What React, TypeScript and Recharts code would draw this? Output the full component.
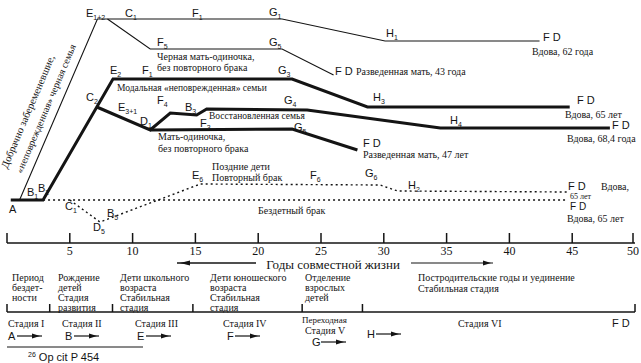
import React from "react";
import { LineChart, Line, XAxis, YAxis, ReferenceLine, Customized } from "recharts";

type P = { x: number; y: number };

// x — годы совместной жизни, y — условный уровень над осью
const yearTicks = [0, 5, 10, 15, 20, 25, 30, 35, 40, 45, 50];

const blackFamily: P[] = [
  { x: 1.0, y: 43 }, { x: 7.2, y: 224 }, { x: 21.9, y: 224 }, { x: 30.1, y: 202 }, { x: 42.4, y: 202 },
];
const blackSingleMother: P[] = [
  { x: 8.0, y: 224 }, { x: 11.4, y: 194 }, { x: 21.9, y: 194 }, { x: 26.0, y: 168 },
];
const modalFamily: P[] = [
  { x: 0.3, y: 43 }, { x: 2.87, y: 43 }, { x: 8.44, y: 164 }, { x: 22.7, y: 164 }, { x: 28.7, y: 136 }, { x: 44.8, y: 136 },
];
const restoredFamily: P[] = [
  { x: 7.15, y: 136 }, { x: 11.4, y: 113 }, { x: 13.0, y: 130 }, { x: 15.1, y: 128 }, { x: 15.9, y: 134 },
  { x: 23.9, y: 133 }, { x: 34.5, y: 115 }, { x: 48.0, y: 115 },
];
const singleMother: P[] = [
  { x: 11.4, y: 113 }, { x: 22.7, y: 114 }, { x: 27.9, y: 93 },
];
const childless: P[] = [
  { x: 2.87, y: 43 }, { x: 44.6, y: 43 },
];
const remarriage: P[] = [
  { x: 5.0, y: 43 }, { x: 7.4, y: 21 }, { x: 15.4, y: 59 }, { x: 29.7, y: 58 }, { x: 31.1, y: 52 }, { x: 44.6, y: 51 },
];
const stageBounds = [0, 3.4, 8.4, 14.8, 23.5, 28.3, 50];

const INK = "#141414";
const SERIF = "'Liberation Serif', 'DejaVu Serif', serif";
const SANS = "'Liberation Sans', Arial, sans-serif";

function Pt({ x, y, l, s, size = 11 }: { x: number; y: number; l: string; s?: string; size?: number }) {
  return (
    <text x={x} y={y} fontFamily={SANS} fontSize={size} fill={INK}>
      {l}
      {s ? <tspan fontSize={7} dy={3}>{s}</tspan> : null}
    </text>
  );
}

function T({ x, y, children, size = 10, anchor = "start", font = SERIF, weight = "normal" }: any) {
  return (
    <text x={x} y={y} fontFamily={font} fontSize={size} fill={INK} textAnchor={anchor} fontWeight={weight}>
      {children}
    </text>
  );
}

function Arrow({ x, y, len = 25 }: { x: number; y: number; len?: number }) {
  return (
    <g>
      <line x1={x} y1={y} x2={x + len} y2={y} stroke={INK} strokeWidth={1.2} />
      <path d={`M${x + len - 10},${y - 2.5} L${x + len - 2},${y} L${x + len - 10},${y + 2.5} Z`} fill={INK} />
    </g>
  );
}

function AxisTick(props: any) {
  const { x, y, payload } = props;
  return (
    <g>
      <line x1={x} y1={y} x2={x} y2={y - 10} stroke={INK} strokeWidth={1.5} />
      {payload.value !== 0 ? (
        <text x={x} y={y + 12} textAnchor="middle" fontFamily={SERIF} fontSize={12} fill={INK}>
          {payload.value}
        </text>
      ) : null}
    </g>
  );
}

function Annotations() {
  return (
    <g>
      {/* rotated caption along the thin line */}
      <text x={31} y={113} transform="rotate(-67 31 113)" textAnchor="middle" fontFamily={SERIF} fontSize={10.5} fill={INK}>
        Добрачно забеременевшие,
      </text>
      <text x={49} y={110} transform="rotate(-67 49 110)" textAnchor="middle" fontFamily={SERIF} fontSize={10} fill={INK}>
        «неповрежденная» черная семья
      </text>

      <Pt x={86} y={17} l="E" s="1+2" />
      <Pt x={125} y={17} l="C" s="1" />
      <Pt x={192} y={17} l="F" s="1" />
      <Pt x={269} y={16} l="G" s="1" />
      <Pt x={386} y={37} l="H" s="1" />
      <Pt x={543} y={41} l="F  D" />
      <T x={532} y={55}>Вдова, 62 года</T>

      <Pt x={157} y={46} l="F" s="5" />
      <Pt x={269} y={46} l="G" s="5" />
      <T x={157} y={60}>Черная мать-одиночка,</T>
      <T x={157} y={71}>без повторного брака</T>
      <Pt x={335} y={75} l="F  D" />
      <T x={356} y={75}>Разведенная мать, 43 года</T>

      <Pt x={110} y={74} l="E" s="2" />
      <Pt x={142} y={74} l="F" s="1" />
      <Pt x={278} y={74} l="G" s="3" />
      <T x={117} y={91} size={9.5}>Модальная «неповрежденная» семьи</T>
      <Pt x={373} y={101} l="H" s="3" />
      <Pt x={577} y={104} l="F  D" />
      <T x={565} y={118}>Вдова, 65 лет</T>

      <Pt x={86} y={101} l="C" s="2" />
      <Pt x={118} y={111} l="E" s="3+1" />
      <Pt x={157} y={104} l="F" s="4" />
      <Pt x={140} y={125} l="D" s="1" />
      <Pt x={185} y={111} l="B" s="3" />
      <Pt x={200} y={127} l="F" s="3" />
      <T x={209} y={119} size={9.5}>Восстановленная семья</T>
      <Pt x={284} y={104} l="G" s="4" />
      <Pt x={294} y={131} l="G" s="5" />
      <T x={158} y={140}>Мать-одиночка,</T>
      <T x={158} y={152}>без повторного брака</T>
      <Pt x={363} y={147} l="F  D" />
      <T x={363} y={158}>Разведенная мать, 47 лет</T>
      <Pt x={450} y={124} l="H" s="4" />
      <Pt x={612} y={129} l="F  D" />
      <T x={567} y={142}>Вдова, 68,4 года</T>

      <Pt x={9} y={213} l="A" />
      <Pt x={27} y={196} l="B" s="1" />
      <Pt x={38} y={192} l="B" s="2" />
      <Pt x={65} y={210} l="C" s="1" />
      <Pt x={107} y={217} l="B" s="5" />
      <Pt x={93} y={231} l="D" s="5" />
      <Pt x={192} y={179} l="E" s="6" />
      <T x={212} y={170}>Поздние дети</T>
      <T x={212} y={181}>Повторный брак</T>
      <Pt x={310} y={179} l="F" s="6" />
      <Pt x={365} y={177} l="G" s="6" />
      <Pt x={408} y={189} l="H" s="2" />
      <T x={258} y={214}>Бездетный брак</T>
      <Pt x={568} y={189.5} l="F  D" />
      <T x={601} y={189.5}>Вдова,</T>
      <T x={570} y={199} size={8}>65 лет</T>
      <Pt x={570} y={210} l="F  D" size={10} />
      <T x={567} y={222}>Вдова, 65 лет</T>

      {/* axis title */}
      <T x={333} y={269} size={13} anchor="middle">Годы совместной жизни</T>
      <line x1={177} y1={263} x2={256} y2={263} stroke={INK} strokeWidth={1.3} />
      <path d="M180,263 L190,260.5 L190,265.5 Z" fill={INK} />
      <Arrow x={411} y={263} len={82} />

      {/* stage descriptions */}
      <T x={12} y={281}>Период</T>
      <T x={12} y={291}>бездет-</T>
      <T x={12} y={301}>ности</T>
      <T x={58} y={281}>Рождение</T>
      <T x={58} y={291}>детей</T>
      <T x={58} y={301}>Стадия</T>
      <T x={58} y={310.5}>развития</T>
      <T x={120} y={281}>Дети школьного</T>
      <T x={120} y={291}>возраста</T>
      <T x={120} y={301}>Стабильная</T>
      <T x={120} y={310.5}>стадия</T>
      <T x={210} y={281}>Дети юношеского</T>
      <T x={210} y={291}>возраста</T>
      <T x={210} y={301}>Стабильная</T>
      <T x={210} y={310.5}>стадия</T>
      <T x={305} y={281}>Отделение</T>
      <T x={305} y={291}>взрослых</T>
      <T x={305} y={301}>детей</T>
      <T x={418} y={281}>Постродительские годы и уединение</T>
      <T x={418} y={292}>Стабильная стадия</T>

      <T x={8} y={327}>Стадия I</T>
      <Pt x={8} y={340} l="A" />
      <Arrow x={17} y={336} />
      <T x={62} y={327}>Стадия II</T>
      <Pt x={65} y={340} l="B" />
      <Arrow x={74} y={336} />
      <T x={135} y={327}>Стадия III</T>
      <Pt x={137} y={340} l="E" />
      <Arrow x={146} y={336} />
      <T x={223} y={327}>Стадия IV</T>
      <Pt x={227} y={340} l="F" />
      <Arrow x={235} y={336} />
      <T x={302} y={323} size={9}>Переходная</T>
      <T x={305} y={334}>Стадия V</T>
      <Pt x={312} y={346} l="G" />
      <Arrow x={321} y={342} />
      <Pt x={367} y={338} l="H" />
      <Arrow x={376} y={334} />
      <T x={458} y={327}>Стадия VI</T>
      <Pt x={612} y={327} l="F  D" />

      <line x1={7} y1={347} x2={143} y2={347} stroke={INK} strokeWidth={1} />
      <text x={28} y={361} fontFamily={SANS} fontSize={11} fill={INK}>
        <tspan fontSize={7} dy={-4}>26</tspan>
        <tspan dy={4}> Op cit  P  454</tspan>
      </text>
    </g>
  );
}

export default function App() {
  const thin = { stroke: INK, strokeWidth: 1.1, dot: false, activeDot: false, isAnimationActive: false, type: "linear" as const };
  const thick = { ...thin, strokeWidth: 3 };
  const dashed = { ...thin, strokeWidth: 1.4, strokeDasharray: "2 3" };
  return (
    <div style={{ position: "absolute", left: 0, top: 0, width: 641, height: 363, background: "#fff" }}>
      <LineChart width={641} height={363} margin={{ top: 10, right: 6, bottom: 90, left: 7 }}>
        <XAxis
          type="number"
          dataKey="x"
          domain={[0, 50]}
          ticks={yearTicks}
          height={30}
          tickSize={0}
          tickMargin={0}
          tickLine={false}
          axisLine={{ stroke: INK, strokeWidth: 1.5 }}
          tick={<AxisTick />}
          allowDataOverflow
        />
        <YAxis type="number" domain={[0, 233]} hide allowDataOverflow />
        <Line data={blackFamily} dataKey="y" {...thin} />
        <Line data={blackSingleMother} dataKey="y" {...thin} />
        <Line data={modalFamily} dataKey="y" {...thick} />
        <Line data={restoredFamily} dataKey="y" {...thick} />
        <Line data={singleMother} dataKey="y" {...thick} />
        <Line data={childless} dataKey="y" {...dashed} />
        <Line data={remarriage} dataKey="y" {...dashed} />
        <ReferenceLine
          segment={[{ x: 0, y: -69 }, { x: 50, y: -69 }]}
          stroke={INK}
          strokeWidth={1.3}
          ifOverflow="visible"
        />
        {stageBounds.map((b) => (
          <ReferenceLine
            key={b}
            segment={[{ x: b, y: -69 }, { x: b, y: -61 }]}
            stroke={INK}
            strokeWidth={1.5}
            ifOverflow="visible"
          />
        ))}
        <Customized component={Annotations} />
      </LineChart>
    </div>
  );
}
